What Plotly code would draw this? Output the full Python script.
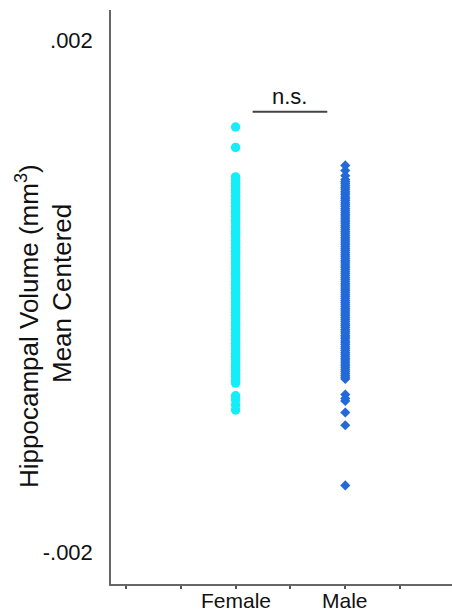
import plotly.graph_objects as go

# ---- data ----
groups = ["Female", "Male"]
group_pos = [1, 2]

female_vals = [
    0.00132, 0.00116,
    0.00093, 0.00091, 0.00088, 0.00086, 0.00083, 0.00081, 0.00078, 0.00075,
    0.00073, 0.00070, 0.00067, 0.00065, 0.00062, 0.00059, 0.00057, 0.00054,
    0.00051, 0.00049, 0.00046, 0.00043, 0.00041, 0.00038, 0.00035, 0.00033,
    0.00030, 0.00027, 0.00025, 0.00022, 0.00019, 0.00017, 0.00014, 0.00011,
    0.00009, 0.00006, 0.00003, 0.00001, -0.00002, -0.00005, -0.00007, -0.00010,
    -0.00013, -0.00015, -0.00018, -0.00021, -0.00023, -0.00026, -0.00029,
    -0.00031, -0.00034, -0.00037, -0.00039, -0.00042, -0.00045, -0.00047,
    -0.00050, -0.00053, -0.00055, -0.00058, -0.00061, -0.00063, -0.00066,
    -0.00068,
    -0.00078, -0.00081, -0.00085, -0.00089,
]

male_vals = [
    0.00102, 0.00098, 0.00094,
    0.000910, 0.000895, 0.000880, 0.000864, 0.000850, 0.000835, 0.000819,
    0.000805, 0.000790, 0.000774, 0.000760, 0.000745, 0.000729, 0.000715,
    0.000700, 0.000684, 0.000670, 0.000655, 0.000639, 0.000625, 0.000610,
    0.000594, 0.000580, 0.000565, 0.000549, 0.000535, 0.000520, 0.000504,
    0.000490, 0.000475, 0.000459, 0.000445, 0.000430, 0.000414, 0.000400,
    0.000385, 0.000369, 0.000355, 0.000340, 0.000324, 0.000310, 0.000295,
    0.000279, 0.000265, 0.000250, 0.000234, 0.000220, 0.000205, 0.000189,
    0.000175, 0.000160, 0.000144, 0.000130, 0.000115, 0.000099, 0.000085,
    0.000070, 0.000054, 0.000040, 0.000025, 0.000009, -0.000005, -0.000020,
    -0.000036, -0.000050, -0.000065, -0.000081, -0.000095, -0.000110,
    -0.000126, -0.000140, -0.000155, -0.000171, -0.000185, -0.000200,
    -0.000216, -0.000230, -0.000245, -0.000261, -0.000275, -0.000290,
    -0.000306, -0.000320, -0.000335, -0.000351, -0.000365, -0.000380,
    -0.000396, -0.000410, -0.000425, -0.000441, -0.000455, -0.000470,
    -0.000486, -0.000500, -0.000515, -0.000531, -0.000545, -0.000560,
    -0.000576, -0.000590, -0.000605, -0.000621, -0.000635, -0.000648,
    -0.00077, -0.00080, -0.00082, -0.00091, -0.00101, -0.00148,
]

y_tick_vals = [0.002, -0.002]
y_tick_text = [".002", "-.002"]
x_tick_vals = [0, 0.5, 1, 1.5, 2, 2.5]

sig_label = "n.s."
sig_x = [1.155, 1.836]
sig_y = 0.00144
sig_text_y = 0.00156

female_color = "#15EEF8"
male_color = "#236AD8"
FONT = "Liberation Sans, Arial, Helvetica, sans-serif"

W, H = 452, 613
L, R, T, B = 111, 0, 10, 29
pw, ph = W - L - R, H - T - B


def px2paper(px, py):
    return (px - L) / pw, (H - B - py) / ph


fig = go.Figure()
fig.add_trace(go.Scatter(
    x=[group_pos[0]] * len(female_vals), y=female_vals, mode="markers",
    marker=dict(symbol="circle", size=9.5, color=female_color, line=dict(width=0)),
    showlegend=False, name=groups[0]))
fig.add_trace(go.Scatter(
    x=[group_pos[1]] * len(male_vals), y=male_vals, mode="markers",
    marker=dict(symbol="diamond", size=7.8, color=male_color, line=dict(width=0)),
    showlegend=False, name=groups[1]))

# significance bracket
fig.add_shape(type="line", xref="x", yref="y",
              x0=sig_x[0], x1=sig_x[1], y0=sig_y, y1=sig_y,
              line=dict(color="#444444", width=2))
fig.add_annotation(x=(sig_x[0] + sig_x[1]) / 2, y=sig_text_y, xref="x", yref="y",
                   text=sig_label, showarrow=False,
                   font=dict(size=22, color="#111111", family=FONT))

# category labels under the axis
_, lab_y = px2paper(0, 613)
for g, p in zip(groups, group_pos):
    fig.add_annotation(x=p, y=lab_y, xref="x", yref="paper", text=g, showarrow=False,
                       xanchor="center", yanchor="bottom", borderpad=0,
                       font=dict(size=21, color="#111111", family=FONT))

# y title as two rotated lines
for txt, (cx, cy) in [("Hippocampal Volume (mm<sup>3</sup>)", (28, 326)),
                      ("Mean Centered", (62, 293))]:
    ax_, ay_ = px2paper(cx, cy)
    fig.add_annotation(x=ax_, y=ay_, xref="paper", yref="paper", text=txt,
                       textangle=-90, showarrow=False, xanchor="center", yanchor="middle",
                       font=dict(size=26, color="#111111", family=FONT))

fig.update_layout(
    width=W, height=H,
    margin=dict(l=L, r=R, t=T, b=B, pad=0),
    paper_bgcolor="white", plot_bgcolor="white",
    font=dict(family=FONT, color="#111111"),
    xaxis=dict(range=[-0.136, 2.973], tickvals=x_tick_vals, showticklabels=False,
               ticks="outside", ticklen=3, tickwidth=1.5, tickcolor="#555555",
               showline=True, linecolor="#666666", linewidth=1.5,
               showgrid=False, zeroline=False,
               automargin=False, fixedrange=True),
    yaxis=dict(range=[-0.00225, 0.002234], tickvals=y_tick_vals, ticktext=y_tick_text,
               ticks="", showline=True, linecolor="#666666", linewidth=1.5,
               showgrid=False, zeroline=False, tickfont=dict(size=22),
               ticklabelstandoff=12, automargin=False, fixedrange=True),
)

fig.write_html("out.html")
